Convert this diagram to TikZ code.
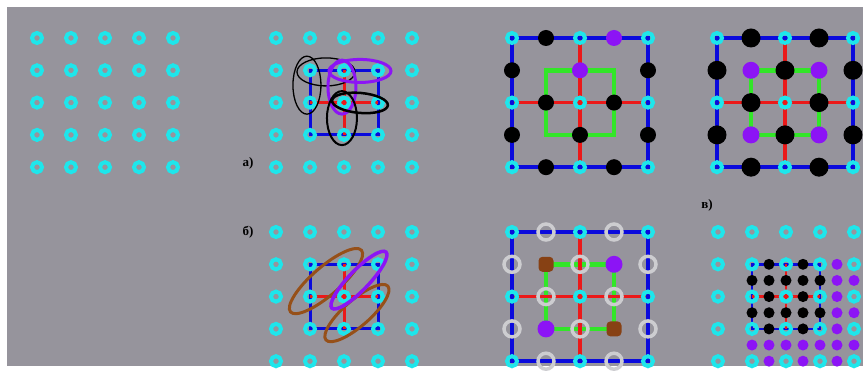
\documentclass[tikz,border=0pt]{standalone}
\usepackage{fontspec}
\setmainfont{Liberation Serif}
\definecolor{boardgray}{RGB}{150,148,156}
\definecolor{sitecyan}{RGB}{30,230,235}
\definecolor{edgeblue}{RGB}{10,10,220}
\definecolor{crossred}{RGB}{235,25,25}
\definecolor{plaqgreen}{RGB}{50,230,40}
\definecolor{dotviolet}{RGB}{140,20,245}
\definecolor{dotbrown}{RGB}{135,65,20}
\definecolor{ovalbrown}{RGB}{150,80,25}
\definecolor{ringgray}{RGB}{205,205,208}
\begin{document}
\begin{tikzpicture}[x=1pt,y=-1pt,
  site/.style={draw=sitecyan,line width=4pt},
  grayring/.style={draw=ringgray,line width=3.5pt},
  border/.style={draw=edgeblue,line width=3.5pt},
  cross/.style={draw=crossred,line width=3.5pt},
  plaq/.style={draw=plaqgreen,line width=4.5pt},
  bigdot/.style={circle,fill=black,minimum size=16pt,inner sep=0pt},
  smalldot/.style={circle,fill=black,minimum size=11pt,inner sep=0pt},
  browndot/.style={fill=dotbrown,rounded corners=4pt,minimum size=15pt,inner sep=0pt},
  lattice/.style={x=34pt,y=-32.3pt},
  lab/.style={font=\bfseries\fontsize{13}{15}\selectfont}]
  \fill[white] (0,0) rectangle (863,367);
  \fill[boardgray] (7,7) rectangle (863,366);
  \begin{scope}[shift={(37pt,-38pt)},lattice]
    \foreach \i in {0,...,4} \foreach \j in {0,...,4}
      \draw[site] (\i,\j) circle[radius=5pt];
  \end{scope}
  \begin{scope}[shift={(276pt,-38pt)},lattice]
    \draw[border,line width=3pt] (1,1) rectangle (3,3);
    \draw[cross,line width=3pt] (2,1) -- (2,3) (1,2) -- (3,2);
    \foreach \i in {0,...,4} \foreach \j in {0,...,4}
      \draw[site] (\i,\j) circle[radius=5pt];
    \draw[line width=1.3pt] (0.91,1.46) ellipse[x radius=14pt,y radius=29pt];
    \draw[line width=1.3pt] (1.47,1.05) ellipse[x radius=29pt,y radius=14pt];
    \draw[dotviolet,line width=3pt] (1.94,1.52) ellipse[x radius=14pt,y radius=27pt];
    \draw[dotviolet,line width=3pt] (2.47,1.02) ellipse[x radius=31pt,y radius=11.5pt];
    \draw[line width=2.5pt,rotate around={-5:(2.47,2.01)}] (2.47,2.01) ellipse[x radius=28pt,y radius=10pt];
    \draw[line width=2pt] (1.94,2.48) ellipse[x radius=15pt,y radius=27pt];
  \end{scope}
  \begin{scope}[shift={(276pt,-232pt)},lattice]
    \draw[border,line width=3pt] (1,1) rectangle (3,3);
    \draw[cross,line width=3pt] (2,1) -- (2,3) (1,2) -- (3,2);
    \foreach \i in {0,...,4} \foreach \j in {0,...,4}
      \draw[site] (\i,\j) circle[radius=5pt];
    \draw[ovalbrown,line width=3pt,rotate around={41:(1.47,1.52)}] (1.47,1.52) ellipse[x radius=47pt,y radius=14pt];
    \draw[ovalbrown,line width=3pt,rotate around={41:(2.38,2.51)}] (2.38,2.51) ellipse[x radius=41pt,y radius=13pt];
    \draw[dotviolet,line width=3.5pt,rotate around={46:(2.44,1.49)}] (2.44,1.49) ellipse[x radius=39pt,y radius=10pt];
  \end{scope}
  \node[lab] (la) at (248,163) {а)};
  \node[lab] (lb) at (248,232) {б)};
  \node[lab] (lv) at (707,205) {в)};
  \begin{scope}[shift={(512pt,-38pt)},lattice]
    \draw[plaq] (1,1) rectangle (3,3);
    \draw[cross] (2,0) -- (2,4) (0,2) -- (4,2);
    \draw[border] (0,0) rectangle (4,4);
    \foreach \i in {0,2,4} \foreach \j in {0,2,4}
      \draw[site] (\i,\j) circle[radius=5pt];
    \foreach \p in {(1,0),(0,1),(4,1),(1,2),(3,2),(0,3),(2,3),(4,3),(1,4),(3,4)}
      \node[bigdot] at \p {};
    \foreach \p in {(3,0),(2,1)}
      \node[bigdot,fill=dotviolet] at \p {};
  \end{scope}
  \begin{scope}[shift={(717pt,-38pt)},lattice]
    \draw[plaq] (1,1) rectangle (3,3);
    \draw[cross] (2,0) -- (2,4) (0,2) -- (4,2);
    \draw[border] (0,0) rectangle (4,4);
    \foreach \i in {0,2,4} \foreach \j in {0,2,4}
      \draw[site] (\i,\j) circle[radius=5pt];
    \foreach \p in {(1,0),(3,0),(0,1),(2,1),(4,1),(1,2),(3,2),(0,3),(2,3),(4,3),(1,4),(3,4)}
      \node[bigdot,minimum size=19pt] at \p {};
    \foreach \p in {(1,1),(3,1),(1,3),(3,3)}
      \node[bigdot,minimum size=17pt,fill=dotviolet] at \p {};
  \end{scope}
  \begin{scope}[shift={(512pt,-232pt)},lattice]
    \draw[plaq] (1,1) rectangle (3,3);
    \draw[cross] (2,0) -- (2,4) (0,2) -- (4,2);
    \draw[border] (0,0) rectangle (4,4);
    \foreach \i in {0,2,4} \foreach \j in {0,2,4}
      \draw[site] (\i,\j) circle[radius=5pt];
    \foreach \p in {(1,0),(3,0),(0,1),(2,1),(4,1),(1,2),(3,2),(0,3),(2,3),(4,3),(1,4),(3,4)}
      \draw[grayring] \p circle[radius=8pt];
    \foreach \p in {(1,1),(3,3)}
      \node[browndot] at \p {};
    \foreach \p in {(3,1),(1,3)}
      \node[bigdot,minimum size=17pt,fill=dotviolet] at \p {};
  \end{scope}
  \begin{scope}[shift={(718pt,-232pt)},lattice]
    \draw[border,line width=2.5pt] (1,1) rectangle (3,3);
    \draw[cross,line width=2.5pt] (2,1) -- (2,3) (1,2) -- (3,2);
    \foreach \i in {0,...,4} \foreach \j in {0,...,4}
      \draw[site] (\i,\j) circle[radius=5pt];
    \foreach \j in {1,2,3} \foreach \i in {1.5,2.5}
      \node[smalldot] at (\i,\j) {};
    \foreach \j in {1.5,2.5} \foreach \i in {1,1.5,2,2.5,3}
      \node[smalldot] at (\i,\j) {};
    \foreach \j in {1,1.5,2,2.5,3,3.5}
      \node[smalldot,fill=dotviolet] at (3.5,\j) {};
    \foreach \j in {1.5,2.5,3.5}
      \node[smalldot,fill=dotviolet] at (4,\j) {};
    \foreach \i in {1,1.5,2,2.5,3}
      \node[smalldot,fill=dotviolet] at (\i,3.5) {};
    \foreach \i in {1.5,2.5,3.5}
      \node[smalldot,fill=dotviolet] at (\i,4) {};
  \end{scope}
\end{tikzpicture}
\end{document}
